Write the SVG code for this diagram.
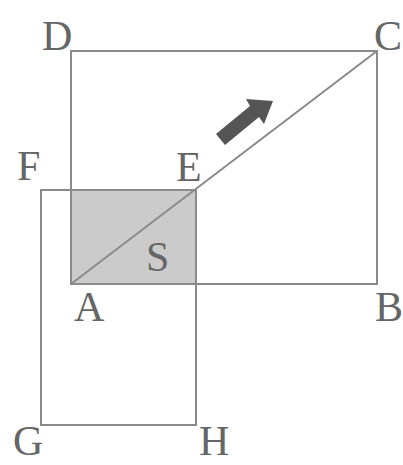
<svg xmlns="http://www.w3.org/2000/svg" width="403" height="465" viewBox="0 0 403 465">
<style>
.ln{fill:none;stroke:#8a8a8a;stroke-width:2}
.lb{font-family:"Liberation Serif","DejaVu Serif",serif;font-size:42px;fill:#666}
</style>
<rect width="403" height="465" fill="#fff"/>
<g id="shade"><rect x="71" y="190" width="125" height="94" fill="#cbcbcb"/></g>
<g id="rectABCD"><rect class="ln" x="71" y="51" width="306" height="233"/></g>
<g id="rectFEHG"><rect class="ln" x="41" y="190" width="155" height="235"/></g>
<g id="connectors">
<line class="ln" x1="71" y1="284" x2="377" y2="51"/>
<polygon id="arrow" fill="#555" points="273,101 264,124 259,117 225,145 216,134 250,106 246,99"/>
</g>
<g id="labels">
<text class="lb" x="42" y="50">D</text>
<text class="lb" x="374" y="50">C</text>
<text class="lb" x="17" y="180">F</text>
<text class="lb" x="176" y="181">E</text>
<text class="lb" x="146" y="271">S</text>
<text class="lb" x="74" y="321">A</text>
<text class="lb" x="375" y="321">B</text>
<text class="lb" x="13" y="455">G</text>
<text class="lb" x="199" y="455">H</text>
</g>
</svg>
